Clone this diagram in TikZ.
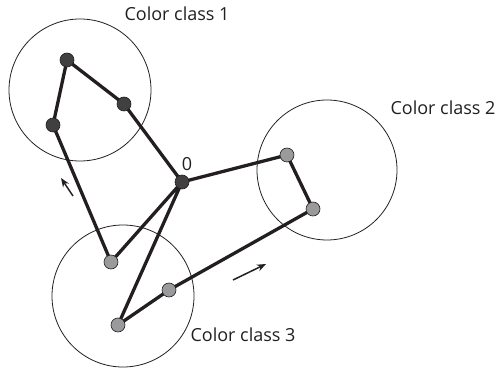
\documentclass[tikz,border=0pt]{standalone}
\usepackage{fontspec}
\setmainfont{Open Sans}
\usetikzlibrary{arrows.meta}
\definecolor{darkdot}{HTML}{404040}
\definecolor{lightdot}{HTML}{9A9A9C}
\definecolor{inkline}{HTML}{231F20}
\begin{document}
\begin{tikzpicture}[x=1pt,y=-1pt,
  classcircle/.style={draw=inkline,line width=0.8pt},
  darkv/.style={circle,fill=darkdot,draw=inkline,line width=0.6pt,inner sep=0pt,minimum size=14pt},
  lightv/.style={circle,fill=lightdot,draw=inkline,line width=0.6pt,inner sep=0pt,minimum size=14pt},
  tour/.style={draw=inkline,line width=3.3pt},
  dirarrow/.style={draw=inkline,line width=1.5pt,-{Stealth[length=9pt,width=7pt]}},
  lbl/.style={font=\fontsize{18}{20}\selectfont,text=inkline,inner sep=0pt}]
\useasboundingbox (0,0) rectangle (497,371);
% class circles
\draw[classcircle] (80,90) circle (71);
\draw[classcircle] (327,170) circle (70);
\draw[classcircle] (123,296) circle (71);
% labels
\node[lbl] (l1) at (177,14) {Color class 1};
\node[lbl] (l2) at (443,108) {Color class 2};
\node[lbl] (l3) at (243,335) {Color class 3};
% vertices
\coordinate (p0) at (182,182);
\coordinate (p1a) at (124,104);
\coordinate (p1b) at (67,60);
\coordinate (p1c) at (53,125);
\coordinate (p3a) at (111,262);
\coordinate (p3c) at (118,325);
\coordinate (p3b) at (169,290);
\coordinate (p2b) at (313,209);
\coordinate (p2a) at (287,155);
% tour
\draw[tour,line join=round] (p0) -- (p1a) -- (p1b) -- (p1c) -- (p3a) -- (p0) -- (p3c) -- (p3b) -- (p2b) -- (p2a) -- cycle;
\node[darkv] (v1a) at (p1a) {};
\node[darkv] (v1b) at (p1b) {};
\node[darkv] (v1c) at (p1c) {};
\node[darkv] (v0) at (p0) {};
\node[lightv] (v2a) at (p2a) {};
\node[lightv] (v2b) at (p2b) {};
\node[lightv] (v3a) at (p3a) {};
\node[lightv] (v3b) at (p3b) {};
\node[lightv] (v3c) at (p3c) {};
\node[lbl] (l0) at (187,164) {0};
% direction arrows
\coordinate (a1s) at (73,196);
\coordinate (a1e) at (61,178);
\coordinate (a2s) at (233,280);
\coordinate (a2e) at (266,264);
\draw[dirarrow] (a1s) -- (a1e);
\draw[dirarrow] (a2s) -- (a2e);
\end{tikzpicture}
\end{document}
